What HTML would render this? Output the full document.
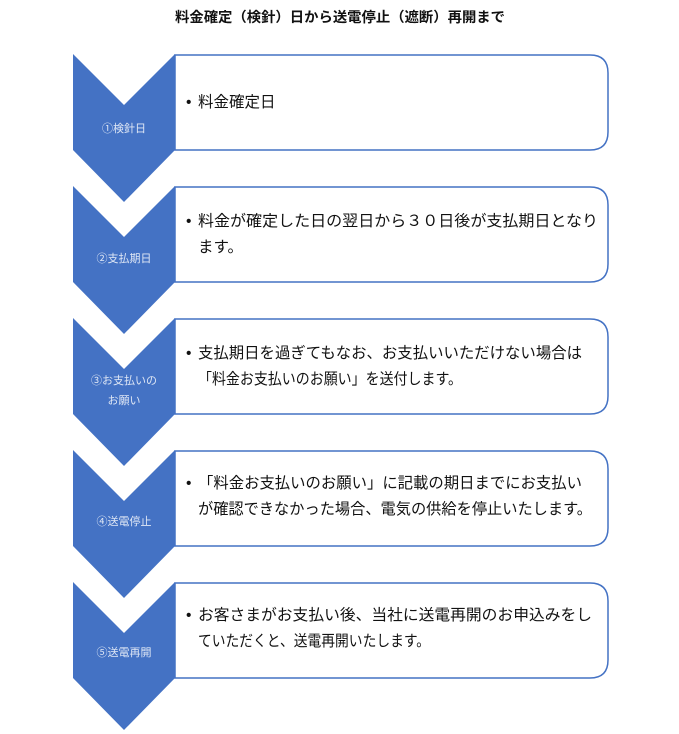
<!DOCTYPE html>
<html><head><meta charset="utf-8"><style>
html,body{margin:0;padding:0;background:#fff;}
svg{display:block;}
text{font-family:"Liberation Sans","Noto Sans CJK JP",sans-serif;}
.t{font-size:15.5px;fill:#111;}
.l{font-size:11px;fill:#dfe7f5;}
</style></head><body>
<svg width="679" height="734" viewBox="0 0 679 734" xmlns="http://www.w3.org/2000/svg">
<text x="340" y="22" text-anchor="middle" font-size="14" font-weight="bold" fill="#111" textLength="330" lengthAdjust="spacingAndGlyphs">料金確定（検針）日から送電停止（遮断）再開まで</text>
<g id="s">
</g>
<!-- chevrons -->
<g fill="#4472c4">
<polygon points="73,54 124,105 175,54 175,150 124,202 73,150"/>
<polygon points="73,186 124,237 175,186 175,282 124,334 73,282"/>
<polygon points="73,318 124,369 175,318 175,414 124,466 73,414"/>
<polygon points="73,450 124,501 175,450 175,546 124,598 73,546"/>
<polygon points="73,582 124,633 175,582 175,678 124,730 73,678"/>
</g>
<g fill="#fff" stroke="#4472c4" stroke-width="1.5">
<path d="M175,55 H590 Q608,55 608,73 V132 Q608,150 590,150 H175 Z"/>
<path d="M175,187 H590 Q608,187 608,205 V264 Q608,282 590,282 H175 Z"/>
<path d="M175,319 H590 Q608,319 608,337 V396 Q608,414 590,414 H175 Z"/>
<path d="M175,451 H590 Q608,451 608,469 V528 Q608,546 590,546 H175 Z"/>
<path d="M175,583 H590 Q608,583 608,601 V660 Q608,678 590,678 H175 Z"/>
</g>
<g class="l" text-anchor="middle">
<text x="124" y="132">①検針日</text>
<text x="124" y="262">②支払期日</text>
<text x="124" y="384">③お支払いの</text>
<text x="124" y="404">お願い</text>
<text x="124" y="525">④送電停止</text>
<text x="124" y="656">⑤送電再開</text>
</g>
<g class="t">
<text x="186" y="107">•</text><text x="198" y="107">料金確定日</text>
<text x="186" y="226">•</text><text x="198" y="226" textLength="400" lengthAdjust="spacingAndGlyphs">料金が確定した日の翌日から３０日後が支払期日となり</text>
<text x="198" y="252">ます。</text>
<text x="186" y="358">•</text><text x="198" y="358" textLength="384" lengthAdjust="spacingAndGlyphs">支払期日を過ぎてもなお、お支払いいただけない場合は</text>
<text x="198" y="384" textLength="264" lengthAdjust="spacingAndGlyphs">「料金お支払いのお願い」を送付します。</text>
<text x="186" y="488">•</text><text x="198" y="488" textLength="384" lengthAdjust="spacingAndGlyphs">「料金お支払いのお願い」に記載の期日までにお支払い</text>
<text x="198" y="514" textLength="394" lengthAdjust="spacingAndGlyphs">が確認できなかった場合、電気の供給を停止いたします。</text>
<text x="186" y="620">•</text><text x="198" y="620" textLength="394" lengthAdjust="spacingAndGlyphs">お客さまがお支払い後、当社に送電再開のお申込みをし</text>
<text x="198" y="646" textLength="232" lengthAdjust="spacingAndGlyphs">ていただくと、送電再開いたします。</text>
</g>
</svg>
</body></html>
